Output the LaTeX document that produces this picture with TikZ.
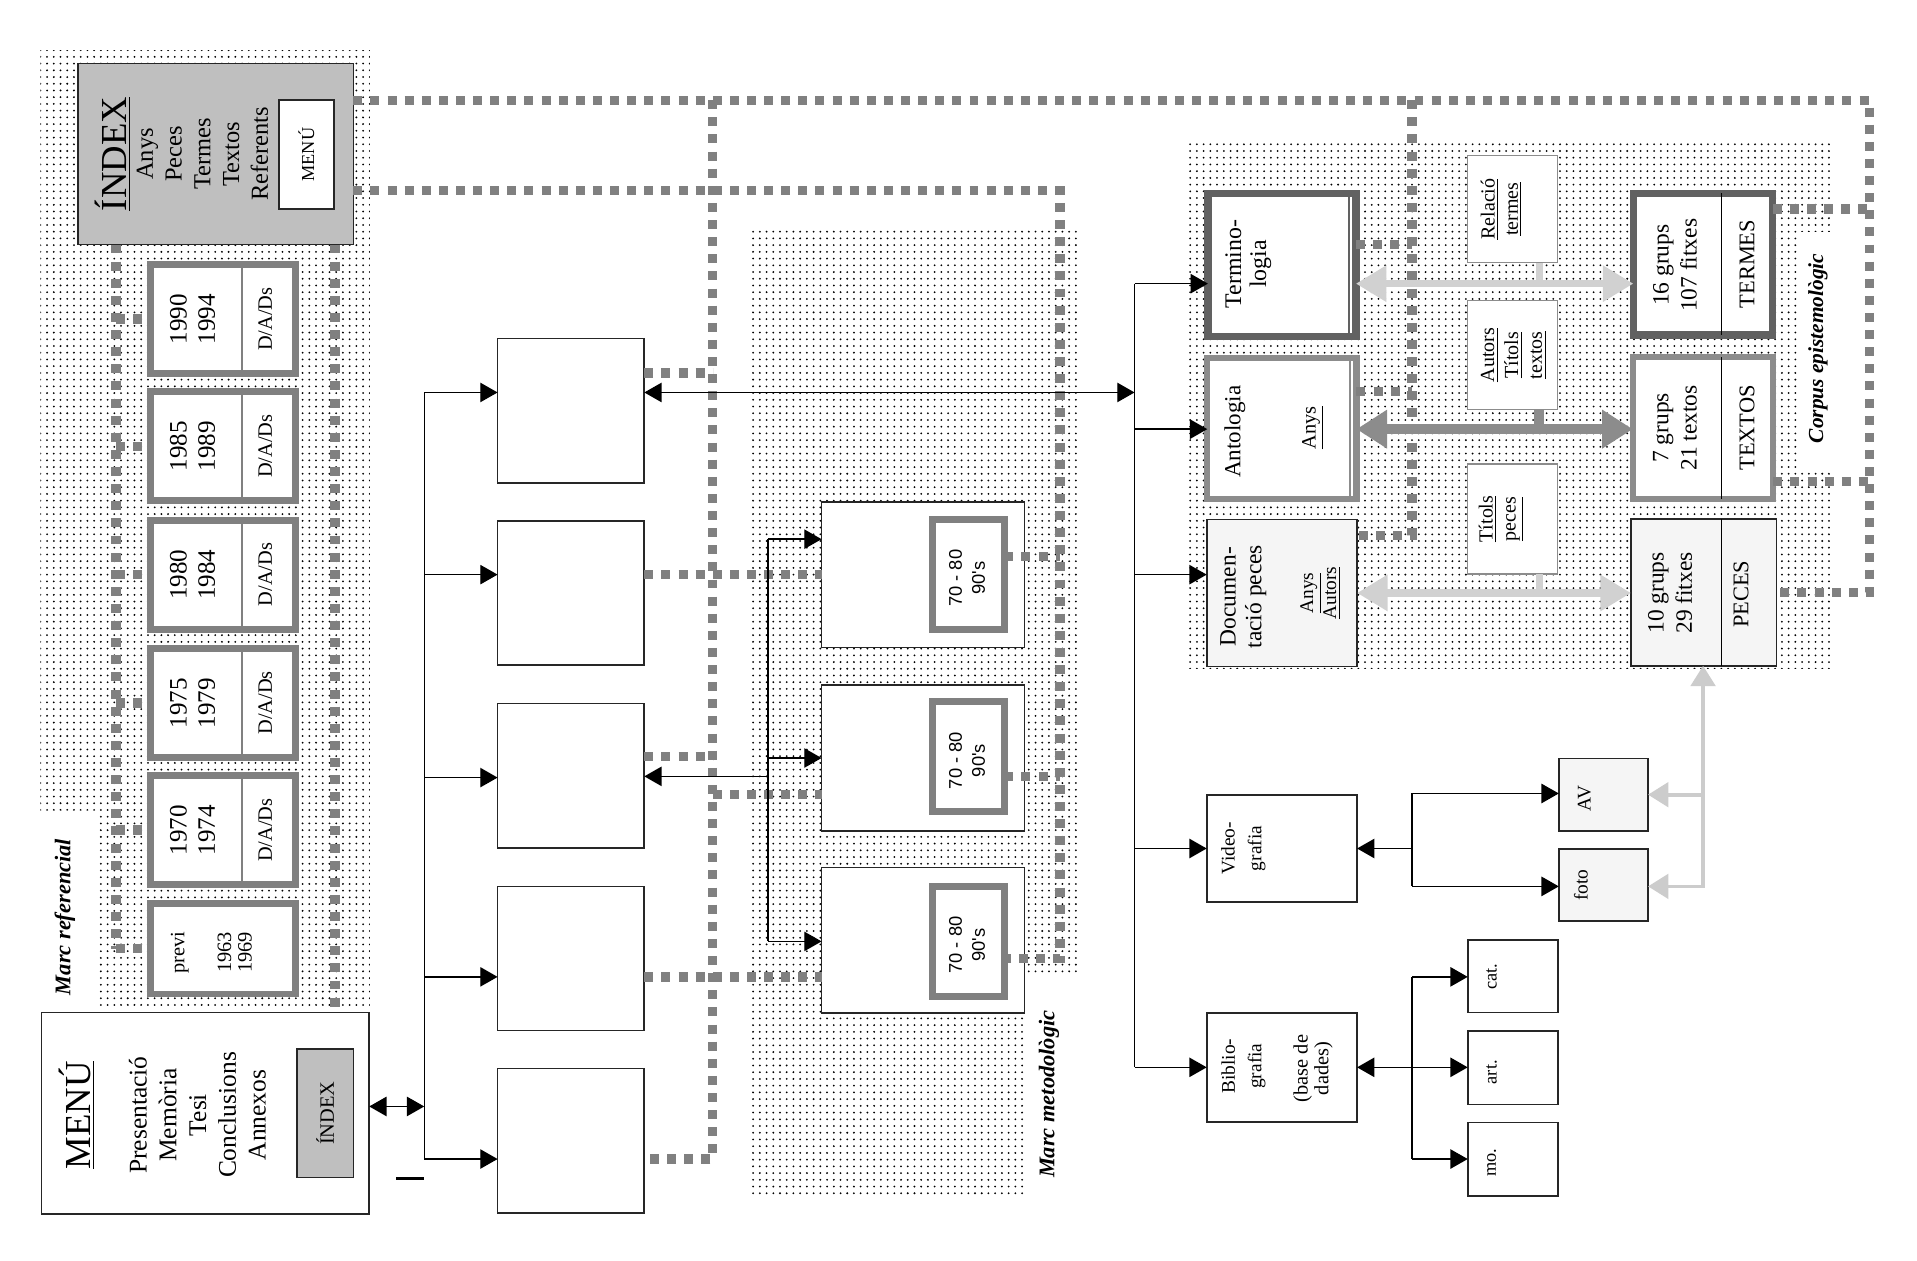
\documentclass[tikz,border=0pt]{standalone}
\usepackage{fontspec}
\setmainfont{Liberation Serif}
\newfontfamily\sansfont{Liberation Sans}
\usetikzlibrary{arrows.meta,patterns}

\pgfdeclarepatternformonly{sparsedots}{\pgfqpoint{-1pt}{-1pt}}{\pgfqpoint{1pt}{1pt}}{\pgfqpoint{3.3pt}{3.3pt}}%
  {\pgfpathcircle{\pgfqpoint{0pt}{0pt}}{0.5pt}\pgfusepath{fill}}

\tikzset{
  box/.style={draw=black!85, line width=0.8pt, fill=white, inner sep=0pt, outer sep=0pt},
  sz/.style 2 args={minimum width=#1*0.6pt, minimum height=#2*0.6pt},
  yearbox/.style={box, draw=gray, line width=3.4pt},
  darkbox/.style={box, draw=black!62, line width=3.6pt},
  midbox/.style={box, draw=black!45, line width=3pt},
  lightbox/.style={box, fill=black!4},
  notebox/.style={box, draw=black!45, line width=0.6pt},
  vtxt/.style={rotate=90, align=center, inner sep=0pt},
  fs/.style 2 args={font=\fontsize{#1}{#2}\selectfont},
  frame label/.style={vtxt, font=\fontsize{11}{13}\selectfont\bfseries\itshape},
  zone/.style={pattern=sparsedots, pattern color=black},
  link/.style={draw=gray, line width=4.6pt, dash pattern=on 4.4pt off 4pt},
  arr/.style={line width=0.7pt, >={Triangle[length=8.5pt,width=9.5pt]}, ->},
  darr/.style={arr, <->},
  lightline/.style={draw=black!18, line width=3.6pt},
  lightarr/.style={lightline, >={Triangle[length=15pt,width=17pt]}, <->},
  darkline/.style={draw=black!45, line width=4.8pt},
  darkarr/.style={darkline, >={Triangle[length=15pt,width=18pt]}, <->},
  pecesarr/.style={draw=black!20, line width=1.8pt, >={Triangle[length=10pt,width=12pt]}},
}

\begin{document}
\begin{tikzpicture}[x=0.6pt, y=-0.6pt]
  \useasboundingbox (0,0) rectangle (1568,1031);
  \fill[white] (0,0) rectangle (1568,1031);

  % dotted frames
  \fill[zone] (33,41) -- (303,41) -- (303,826) -- (79,826) -- (79,663) -- (33,663) -- cycle;
  \fill[zone] (612,188) -- (881,188) -- (881,796) -- (838,796) -- (838,980) -- (612,980) -- cycle;
  \fill[zone] (972,114) rectangle (1497,547);
  \fill[white] (1471,190) rectangle (1498,384);
  \node[frame label] (lref) at (53,750) {Marc referencial};
  \node[frame label] (lmet) at (858,895) {Marc metodològic};
  \node[vtxt, font=\fontsize{10.5}{12}\selectfont\bfseries\itshape] (lcor) at (1487,285) {Corpus epistemològic};

  % Marc referencial
  \node[box, fill=black!25, sz={225}{148}] (index) at (176.5,126) {};
  \node[vtxt, fs={18}{20}] (indext) at (92,126) {\underline{ÍNDEX}};
  \node[vtxt, fs={12}{14.1}] (indexl) at (165.5,126) {Anys\\Peces\\Termes\\Textos\\Referents};
  \node[box, sz={45}{89}] (imenu) at (250.5,126.5) {};
  \node[vtxt, fs={9}{11}] (imenut) at (imenu) {MENÚ};
  \foreach \a/\b/\yc [count=\i] in {1990/1994/261,1985/1989/365,1980/1984/470,1975/1979/575,1970/1974/679} {
    \node[yearbox, sz={119}{89}] (y\i) at (182.5,\yc) {};
    \draw[gray, line width=1.3pt] (y\i.north -| 198,0) -- (y\i.south -| 198,0);
    \node[vtxt, fs={12.3}{13.8}] (ya\i) at (157.5,\yc) {\a\\\b};
    \node[vtxt, fs={10}{12}] (yb\i) at (217,\yc) {D/A/Ds};
  }
  \node[yearbox, sz={119}{74}] (y6) at (182.5,776) {};
  \node[vtxt, fs={10}{12}] (ya6) at (147,779) {previ};
  \node[vtxt, fs={10}{10}] (yb6) at (192,779) {1963\\1969};

  % menu
  \node[box, sz={268}{165}] (menu) at (168,910.5) {};
  \node[vtxt, fs={18}{20}] (menut) at (63,912) {\underline{MENÚ}};
  \node[vtxt, fs={12.5}{14.6}] (menul) at (161.5,912) {Presentació\\Memòria\\Tesi\\Conclusions\\Annexos};
  \node[box, fill=black!25, sz={46}{105}] (mindex) at (266,910.5) {};
  \node[vtxt, fs={10}{12}] (mindext) at (mindex) {ÍNDEX};

  % blank column
  \foreach \i/\yc in {1/336,2/485,3/634.5,4/784,5/933}
    \node[box, sz={120}{118}] (b\i) at (467,\yc) {};

  % Marc metodologic
  \foreach \i/\yc/\ic in {A/470/470,B/620/619,C/769/770} {
    \node[box, sz={166}{119}] (m\i) at (755,\yc) {};
    \node[box, draw=gray, line width=3.6pt, sz={59}{90}] (n\i) at (792,\ic) {};
    \node[vtxt, font=\sansfont\fontsize{9}{11.2}\selectfont] (t\i) at (791,\ic+3) {70 - 80\\90's};
  }

  % Corpus epistemologic
  \node[darkbox, sz={121}{117}] (term) at (1048.5,216.5) {};
  \draw[black!62, line width=0.9pt] ([xshift=-3.3pt]term.north east) -- ([xshift=-3.3pt]term.south east);
  \node[midbox, sz={122}{116}] (anto) at (1048.5,350.5) {};
  \draw[black!45, line width=0.9pt] ([xshift=-3.1pt]anto.north east) -- ([xshift=-3.1pt]anto.south east);
  \node[lightbox, sz={123}{120}] (docu) at (1048.5,485) {};
  \node[notebox, sz={74}{88}] (rel) at (1237,171) {};
  \node[notebox, sz={74}{89}] (aut) at (1237,290.5) {};
  \node[notebox, sz={74}{90}] (tit) at (1237,424.5) {};
  \node[darkbox, sz={114}{116}] (termes) at (1393,216) {};
  \node[midbox, sz={115}{116}] (textos) at (1393,350) {};
  \node[lightbox, sz={119}{120}] (peces) at (1393.5,484.5) {};
  \foreach \n in {termes,textos,peces}
    \draw[line width=0.8pt] (\n.north -| 1408,0) -- (\n.south -| 1408,0);

  \node[vtxt, fs={11.7}{12.3}] (termt) at (1021,216) {Termino-\\logia};
  \node[vtxt, fs={11.3}{13}] (antot) at (1010,353) {Antologia};
  \node[vtxt, fs={10}{12}] (antoa) at (1074,350) {\underline{Anys}};
  \node[vtxt, fs={11.5}{12.6}] (docut) at (1017,488) {Documen-\\tació peces};
  \node[vtxt, fs={9.5}{10}] (docua) at (1080,485) {\underline{Anys}\\\underline{Autors}};
  \node[vtxt, fs={9.8}{11.4}] (relt) at (1228,171) {\underline{Relació}\\\underline{termes}};
  \node[vtxt, fs={9.8}{11.7}] (autt) at (1238,290.5) {\underline{Autors}\\\underline{Títols}\\\underline{textos}};
  \node[vtxt, fs={9.8}{11.4}] (titt) at (1228,424.5) {\underline{Títols}\\\underline{peces}};
  \node[vtxt, fs={11.5}{13.8}] (termest) at (1370,217) {16 grups\\107 fitxes};
  \node[vtxt, fs={11}{13}] (termesl) at (1429,216) {TERMES};
  \node[vtxt, fs={11.5}{13.8}] (textost) at (1370,350) {7 grups\\21 textos};
  \node[vtxt, fs={11}{13}] (textosl) at (1429,350) {TEXTOS};
  \node[vtxt, fs={11.5}{13.8}] (pecest) at (1366,485) {10 grups\\29 fitxes};
  \node[vtxt, fs={11}{13}] (pecesl) at (1424,486) {PECES};

  % videografia and bibliografia
  \node[box, sz={123}{88}] (video) at (1048.5,694) {};
  \node[vtxt, fs={9.5}{13.2}] (videot) at (1017,694) {Video-\\grafia};
  \node[box, sz={123}{89}] (biblio) at (1048.5,873) {};
  \node[vtxt, fs={9.5}{13}] (bibliot) at (1017,872) {Biblio-\\grafia};
  \node[vtxt, fs={10}{10.2}] (bibliod) at (1074,874) {(base de\\dades)};
  \node[lightbox, sz={73}{59}] (av) at (1311.5,650) {};
  \node[vtxt, fs={9.5}{11}] (avt) at (1296,653) {AV};
  \node[lightbox, sz={73}{59}] (foto) at (1311.5,724) {};
  \node[vtxt, fs={9.5}{11}] (fotot) at (1293,724) {foto};
  \node[box, sz={74}{59}] (cat) at (1237.5,798.5) {};
  \node[vtxt, fs={9}{11}] (catt) at (1220,799) {cat.};
  \node[box, sz={74}{60}] (art) at (1237.5,873.5) {};
  \node[vtxt, fs={9}{11}] (artt) at (1220,877) {art.};
  \node[box, sz={74}{60}] (mo) at (1237.5,948) {};
  \node[vtxt, fs={9}{11}] (mot) at (1220,951) {mo.};

  % gray dashed links
  \coordinate (c1) at (1529,82);
  \coordinate (c2) at (867,156);
  \coordinate (c3) at (867,784);
  \coordinate (c4) at (583,82);
  \coordinate (c5) at (583,948);
  \coordinate (c6) at (1155,82);
  \coordinate (c7) at (1155,438);
  \coordinate (c8) at (95,776);
  \draw[link] (index.east |- c1) -- (c1) -- (c1 |- peces.east) -- (peces.east);
  \draw[link] (index.east |- c2) -- (c2) -- (c3) -- (nC.east |- c3);
  \draw[link] (nA.east |- 0,455) -- (c2 |- 0,455);
  \draw[link] (nB.east |- 0,635) -- (c2 |- 0,635);
  \draw[link] (c4) -- (c5) -- (b5.east |- c5);
  \draw[link] (b1.east |- 0,305) -- (c4 |- 0,305);
  \draw[link] (b2.east |- 0,470) -- (mA.west |- 0,470);
  \draw[link] (b3.east |- 0,619) -- (c4 |- 0,619);
  \draw[link] (c4 |- 0,650) -- (mB.west |- 0,650);
  \draw[link] (b4.east |- 0,799) -- (mC.west |- 0,799);
  \draw[link] (c6) -- (c7) -- (docu.east |- c7);
  \draw[link] (term.east |- 0,200) -- (c6 |- 0,200);
  \draw[link] (anto.east |- 0,320) -- (c6 |- 0,320);
  \draw[link] (termes.east |- 0,171) -- (c1 |- 0,171);
  \draw[link] (textos.east |- 0,394) -- (c1 |- 0,394);
  \draw[link] (index.south -| c8) -- (c8);
  \foreach \i in {1,...,6}
    \draw[link] (y\i.west -| c8) -- (y\i.west);
  \draw[link] (index.south -| 274,0) -- (menu.north -| 274,0);

  % left bus
  \coordinate (lb1) at (347,321);
  \coordinate (lb2) at (347,948);
  \draw[line width=0.7pt] (lb1) -- (lb2);
  \foreach \i/\ya in {1/321,2/470,3/636,4/799,5/948}
    \draw[arr] (lb1 |- 0,\ya) -- (b\i.west |- 0,\ya);
  \draw[darr] (menu.east |- 0,905) -- (lb1 |- 0,905);
  \draw[line width=1.8pt] (324,964) -- (lb1 |- 0,964);

  % metodologic bus
  \coordinate (mb1) at (628,441);
  \coordinate (mb2) at (628,770);
  \draw[line width=0.7pt] (mb1) -- (mb2);
  \draw[arr] (mb1) -- (mA.west |- mb1);
  \draw[arr] (mb1 |- 0,620) -- (mB.west |- 0,620);
  \draw[arr] (mb2) -- (mC.west |- mb2);
  \draw[arr] (mb1 |- 0,635) -- (b3.east |- 0,635);

  % right bus
  \coordinate (rb1) at (928,232);
  \coordinate (rb2) at (928,873);
  \draw[line width=0.7pt] (rb1) -- (rb2);
  \draw[arr] (rb1) -- (term.west |- rb1);
  \draw[arr] (rb1 |- 0,351) -- (anto.west |- 0,351);
  \draw[arr] (rb1 |- 0,470) -- (docu.west |- 0,470);
  \draw[arr] (rb1 |- 0,694) -- (video.west |- 0,694);
  \draw[arr] (rb2) -- (biblio.west |- rb2);
  \draw[darr] (b1.east |- 0,321) -- (rb1 |- 0,321);

  % corpus arrows
  \coordinate (jt) at (1259,232);
  \coordinate (ja) at (1259,351);
  \coordinate (jd) at (1259,485);
  \draw[lightarr] (term.east |- jt) -- (termes.west |- jt);
  \draw[lightline] (rel.south -| jt) -- (jt);
  \draw[darkarr] (anto.east |- ja) -- (textos.west |- ja);
  \draw[darkline] (aut.south -| ja) -- (ja);
  \draw[lightarr] (docu.east |- jd) -- (peces.west |- jd);
  \draw[lightline] (tit.south -| jd) -- (jd);

  % video and biblio buses
  \coordinate (vb1) at (1155,649);
  \coordinate (vb2) at (1155,725);
  \draw[line width=0.7pt] (vb1) -- (vb2);
  \draw[arr] (vb1 |- 0,694) -- (video.east |- 0,694);
  \draw[arr] (vb1) -- (av.west |- vb1);
  \draw[arr] (vb2) -- (foto.west |- vb2);
  \coordinate (bb1) at (1155,799);
  \coordinate (bb2) at (1155,948);
  \draw[line width=0.7pt] (bb1) -- (bb2);
  \draw[arr] (bb1 |- 0,873) -- (biblio.east |- 0,873);
  \draw[arr] (bb1) -- (cat.west |- bb1);
  \draw[arr] (bb1 |- 0,873) -- (art.west |- 0,873);
  \draw[arr] (bb2) -- (mo.west |- bb2);

  % light arrows from peces
  \coordinate (pv) at (1393,725);
  \draw[pecesarr, <->] (pv |- peces.south) -- (pv) -- (foto.east |- pv);
  \draw[pecesarr, ->] (pv |- 0,650) -- (av.east |- 0,650);
\end{tikzpicture}
\end{document}
